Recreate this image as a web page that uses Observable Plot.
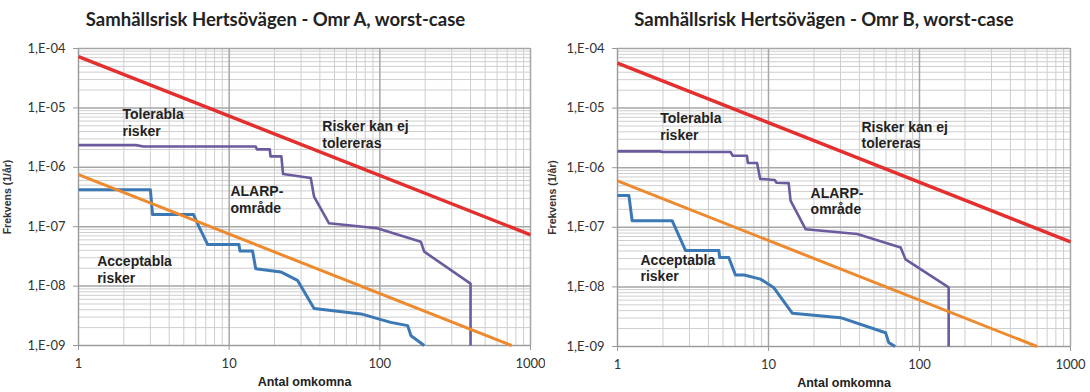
<!DOCTYPE html>
<html>
<head>
<meta charset="utf-8">
<script src="https://cdn.jsdelivr.net/npm/d3@7"></script>
<script src="https://cdn.jsdelivr.net/npm/@observablehq/plot@0.6"></script>
<style>
  body { margin: 0; background: #fff; }
  #wrap { display: flex; width: 1090px; height: 392px; overflow: hidden; }
  #wrap > div { width: 545px; height: 392px; }
</style>
</head>
<body>
<div id="wrap"><div id="a"></div><div id="b"></div></div>
<script>
// ---- tick values and labels ----
const xTicks = [1, 10, 100, 1000];
const yTicks = [1e-4, 1e-5, 1e-6, 1e-7, 1e-8, 1e-9];
const yTickLabels = ["1,E-04", "1,E-05", "1,E-06", "1,E-07", "1,E-08", "1,E-09"];
const titles = ["Samhällsrisk Hertsövägen - Omr A, worst-case", "Samhällsrisk Hertsövägen - Omr B, worst-case"];
const xTitle = "Antal omkomna";
const yTitle = "Frekvens (1/år)";

// ---- Panel A series [N, F] ----
const redA = [[1, 7.3e-5], [1000, 7.3e-8]];
const orangeA = [[1, 7.5e-7], [750, 1e-9]];
const purpleA = [[1, 2.36e-6], [2.4, 2.36e-6], [2.7, 2.24e-6], [15, 2.24e-6], [15.3, 2.0e-6], [18.6, 2.0e-6],
  [18.8, 1.53e-6], [22.2, 1.53e-6], [22.8, 7.7e-7], [34.8, 6.6e-7], [36.6, 3.2e-7], [46, 1.14e-7],
  [96, 9.4e-8], [187, 5.6e-8], [197, 3.8e-8], [400, 1.1e-8], [400, 1e-9]];
const blueA = [[1, 4.2e-7], [3.0, 4.2e-7], [3.1, 1.6e-7], [5.8, 1.6e-7], [6.3, 1e-7], [7.2, 5e-8], [11.6, 5e-8],
  [11.8, 3.9e-8], [14.3, 3.9e-8], [15, 1.96e-8], [22, 1.73e-8], [28.4, 1.25e-8], [36.6, 4.2e-9],
  [75, 3.4e-9], [118, 2.45e-9], [153, 2.16e-9], [161, 1.46e-9], [197, 1e-9]];

// ---- Panel B series [N, F] ----
const redB = [[1, 5.7e-5], [1000, 5.7e-8]];
const orangeB = [[1, 6e-7], [600, 1e-9]];
const purpleB = [[1, 1.88e-6], [1.9, 1.88e-6], [2.0, 1.83e-6], [5.6, 1.83e-6], [5.8, 1.59e-6], [7.2, 1.59e-6],
  [7.3, 1.2e-6], [8.4, 1.2e-6], [8.8, 6.5e-7], [11, 6.2e-7], [11.3, 5.6e-7], [13.6, 5.5e-7], [14, 2.8e-7],
  [17.6, 9.3e-8], [38.7, 7.7e-8], [75, 4.6e-8], [80.8, 2.9e-8], [156, 9.8e-9], [156, 1e-9]];
const blueB = [[1, 3.4e-7], [1.19, 3.4e-7], [1.25, 1.29e-7], [2.3, 1.29e-7], [2.82, 4.1e-8], [4.69, 4.1e-8],
  [4.75, 3.1e-8], [5.46, 3.1e-8], [6.04, 1.58e-8], [6.9, 1.58e-8], [8.85, 1.35e-8], [10.8, 9.8e-9],
  [14.4, 3.6e-9], [30, 3.05e-9], [59.6, 1.7e-9], [62.6, 1.16e-9], [69, 1e-9]];

// ---- annotations ----
const noteLabels = ["Tolerabla\nrisker", "Risker kan ej\ntolereras", "ALARP-\nområde", "Acceptabla\nrisker"];
const noteXA = [1.96, 41.5, 10.2, 1.33];
const noteYA = [5.7e-6, 3.6e-6, 2.87e-7, 1.94e-8];
const noteXB = [1.92, 41.3, 19, 1.42];
const noteYB = [5.0e-6, 3.6e-6, 2.8e-7, 2.1e-8];

// gridline positions (derived from the log scale decades)
const minorX = d3.range(0, 3).flatMap(k => d3.range(2, 10).map(m => m * 10 ** k));
const minorY = d3.range(-9, -4).flatMap(k => d3.range(2, 10).map(m => m * 10 ** k));

function chart(o) {
  const notes = noteLabels.map((label, i) => ({label, x: o.nx[i], y: o.ny[i]}));
  const line = (data, stroke, w) => Plot.line(data, {x: d => d[0], y: d => d[1], stroke, strokeWidth: w, strokeLinejoin: "round", strokeLinecap: "butt"});
  return Plot.plot({
    width: 545, height: 392,
    marginLeft: o.ml, marginRight: o.mr, marginTop: 48, marginBottom: o.mb,
    x: {type: "log", domain: [1, 1000]},
    y: {type: "log", domain: [1e-9, 1e-4]},
    style: {fontFamily: "Lato, sans-serif", fontSize: "13px", color: "#333", background: "#fff"},
    marks: [
      Plot.ruleX(minorX, {stroke: "#cecece", strokeWidth: 1}),
      Plot.ruleY(minorY, {stroke: "#cecece", strokeWidth: 1}),
      Plot.ruleX(xTicks, {stroke: "#a6a6a6", strokeWidth: 1.5}),
      Plot.ruleY(yTicks, {stroke: "#a6a6a6", strokeWidth: 1.5}),
      Plot.axisY({ticks: yTicks, tickFormat: d => yTickLabels[yTicks.indexOf(d)], tickSize: 5, tickPadding: 8, label: null, stroke: "#999"}),
      Plot.axisX({ticks: xTicks, tickFormat: d => String(d), tickSize: 5, tickPadding: 8, label: null, stroke: "#999"}),
      Plot.ruleX([1], {stroke: "#999"}),
      Plot.ruleY([1e-9], {stroke: "#999"}),
      line(o.blue, "#3b78b4", 3),
      line(o.purple, "#6c5a9e", 2.6),
      line(o.orange, "#ee8a2e", 3),
      line(o.red, "#e3302f", 3.4),
      Plot.text(notes, {x: "x", y: "y", text: "label", textAnchor: "start", lineAnchor: "middle", lineHeight: 1.2,
        fontFamily: "Liberation Sans, Arial, sans-serif", fontWeight: "bold", fontSize: 14, fill: "#222"}),
      Plot.text([o.title], {text: d => d, frameAnchor: "top", lineAnchor: "middle", textAnchor: "middle", dx: o.tdx, dy: -28,
        fontFamily: "Lato, sans-serif", fontWeight: "bold", fontSize: 18.5, fill: "#222"}),
      Plot.text([xTitle], {text: d => d, frameAnchor: "bottom", lineAnchor: "middle", textAnchor: "middle", dy: 36,
        fontFamily: "Liberation Sans, Arial, sans-serif", fontWeight: "bold", fontSize: 12.5, fill: "#222"}),
      Plot.text([yTitle], {text: d => d, frameAnchor: "left", lineAnchor: "middle", textAnchor: "middle", rotate: -90, dx: o.ydx,
        fontFamily: "Liberation Sans, Arial, sans-serif", fontWeight: "bold", fontSize: 10.5, fill: "#333"})
    ]
  });
}

document.getElementById("a").append(chart({
  title: titles[0], tdx: -29, ml: 78, mr: 15, mb: 47, ydx: -71,
  red: redA, orange: orangeA, purple: purpleA, blue: blueA, nx: noteXA, ny: noteYA
}));
document.getElementById("b").append(chart({
  title: titles[1], tdx: -20, ml: 72, mr: 20, mb: 46, ydx: -65,
  red: redB, orange: orangeB, purple: purpleB, blue: blueB, nx: noteXB, ny: noteYB
}));
</script>
</body>
</html>
